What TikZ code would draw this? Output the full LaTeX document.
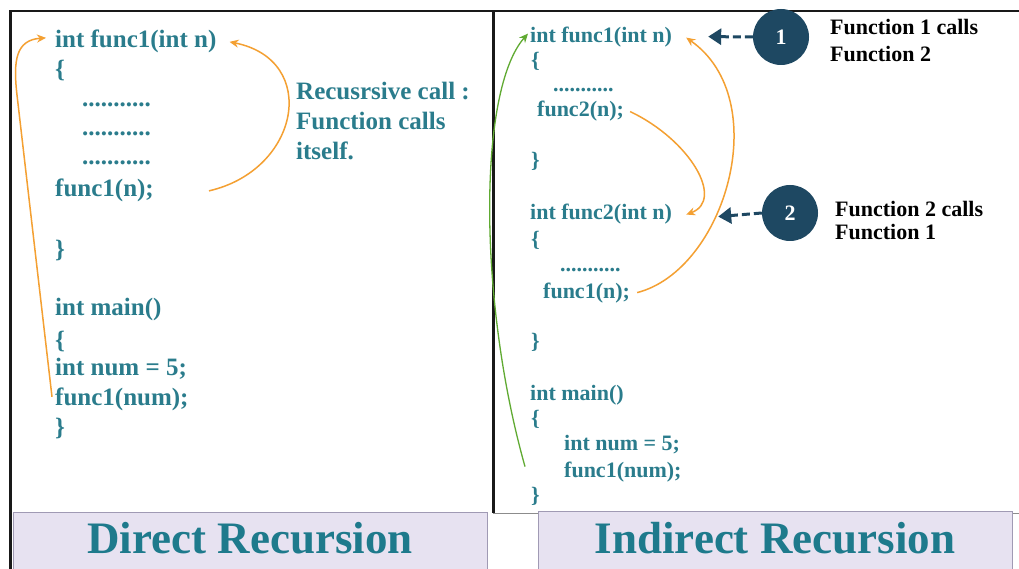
\documentclass[tikz,border=0pt]{standalone}
\usepackage{fontspec}
\setmainfont{Liberation Serif}
\usetikzlibrary{arrows.meta}
\definecolor{codec}{RGB}{42,124,140}
\definecolor{titlec}{RGB}{30,122,140}
\definecolor{orangec}{RGB}{244,160,50}
\definecolor{greenc}{RGB}{96,170,50}
\definecolor{navyc}{RGB}{30,72,98}
\definecolor{bandfill}{RGB}{231,226,241}
\definecolor{banddraw}{RGB}{160,154,180}
\begin{document}
\begin{tikzpicture}[x=1pt,y=-1pt,
  lcode/.style={font=\bfseries\fontsize{25}{30}\selectfont, text=codec, inner sep=0pt, anchor=base west},
  rcode/.style={font=\bfseries\fontsize{22}{26}\selectfont, text=codec, inner sep=0pt, anchor=base west},
  blabel/.style={font=\bfseries\fontsize{22}{26}\selectfont, text=black, inner sep=0pt, anchor=base west},
  titletext/.style={font=\bfseries\fontsize{45}{50}\selectfont, text=titlec, inner sep=0pt, anchor=base},
  band/.style={fill=bandfill, draw=banddraw, line width=1pt},
  circ/.style={circle, fill=navyc, minimum size=56pt, inner sep=0pt, text=white, font=\bfseries\fontsize{22}{26}\selectfont},
  oarrow/.style={draw=orangec, line width=1.5pt, -{Stealth[length=9pt,width=8pt]}},
  garrow/.style={draw=greenc, line width=1.3pt, -{Stealth[length=9pt,width=8pt]}},
  dasharrow/.style={draw=navyc, line width=3pt, dash pattern=on 8pt off 4pt, -{Triangle[length=13pt,width=16pt]}}
]
\useasboundingbox (0,0) rectangle (1019,569);
\fill[white] (0,0) rectangle (1019,569);

% panel borders
\draw[line width=2pt, black!90] (9,11) -- (1019,11);
\draw[line width=3pt, black!90] (10,11) -- (10,569);
\draw[line width=3pt, black!90] (493,11) -- (493,513);
\draw[line width=1pt, black!45] (493,513) -- (540,513);
\draw[line width=1pt, black!45] (1010,513) -- (1019,513);

% title bands
\draw[band] (13,512) rectangle (487,573);
\draw[band] (538,511) rectangle (1012,573);
\node[titletext] (t1) at (250,553) {Direct Recursion};
\node[titletext] (t2) at (775,553) {Indirect Recursion};

% left code
\node[lcode] (l1) at (55,48) {int func1(int n)};
\node[lcode] (l2) at (55,78) {\{};
\node[lcode] (l3) at (82,107) {...........};
\node[lcode] (l4) at (82,136) {...........};
\node[lcode] (l5) at (82,165) {...........};
\node[lcode] (l6) at (55,197) {func1(n);};
\node[lcode] (l7) at (55,258) {\}};
\node[lcode] (l8) at (55,315) {int main()};
\node[lcode] (l9) at (55,348) {\{};
\node[lcode] (l10) at (55,375) {int num = 5;};
\node[lcode] (l11) at (55,405) {func1(num);};
\node[lcode] (l12) at (55,435) {\}};

\node[lcode] (rc1) at (296,100) {Recusrsive call :};
\node[lcode] (rc2) at (296,130) {Function calls};
\node[lcode] (rc3) at (296,160) {itself.};

% right code
\node[rcode] (r1) at (530,43) {int func1(int n)};
\node[rcode] (r2) at (531,68) {\{};
\node[rcode] (r3) at (553,92) {...........};
\node[rcode] (r4) at (537,117) {func2(n);};
\node[rcode] (r5) at (531,168) {\}};
\node[rcode] (r6) at (530,220) {int func2(int n)};
\node[rcode] (r7) at (531,247) {\{};
\node[rcode] (r8) at (560,272) {...........};
\node[rcode] (r9) at (543,298) {func1(n);};
\node[rcode] (r10) at (531,348) {\}};
\node[rcode] (r11) at (530,400) {int main()};
\node[rcode] (r12) at (531,425) {\{};
\node[rcode] (r13) at (564,450) {int num = 5;};
\node[rcode] (r14) at (564,477) {func1(num);};
\node[rcode] (r15) at (531,502) {\}};

% labels
\node[blabel] (f1a) at (830,35) {Function 1 calls};
\node[blabel] (f1b) at (830,62) {Function 2};
\node[blabel] (f2a) at (835,217) {Function 2 calls};
\node[blabel] (f2b) at (835,240) {Function 1};

% circles
\node[circ] (c1) at (781,37) {1};
\node[circ] (c2) at (790,213) {2};

% dashed arrows
\draw[dasharrow] (c1.west) -- ([xshift=36pt,yshift=1pt]r1.east);
\draw[dasharrow] (c2.west) -- ([xshift=46pt,yshift=-2pt]r6.east);

% left arrows
\draw[oarrow] ([xshift=55pt]l6.east) .. controls (300,170) and (320,60) .. ([xshift=13pt]l1.east);
\draw[oarrow] ([xshift=-3pt,yshift=2pt]l11.west) -- (17,95) .. controls (13,60) and (16,40) .. ([xshift=-9pt,yshift=4pt]l1.west);

% right arrows
\coordinate (gstart) at ([xshift=-39pt,yshift=5pt]r14.west);
\draw[garrow] (gstart) .. controls (478,300) and (478,90) .. ([xshift=-2pt,yshift=4pt]r1.west);
\draw[oarrow] ([xshift=6pt]r4.east) .. controls (690,140) and (725,200) .. ([xshift=14pt]r6.east);
\draw[oarrow] ([xshift=7pt]r9.east) .. controls (725,270) and (775,100) .. ([xshift=14pt]r1.east);
\end{tikzpicture}
\end{document}
